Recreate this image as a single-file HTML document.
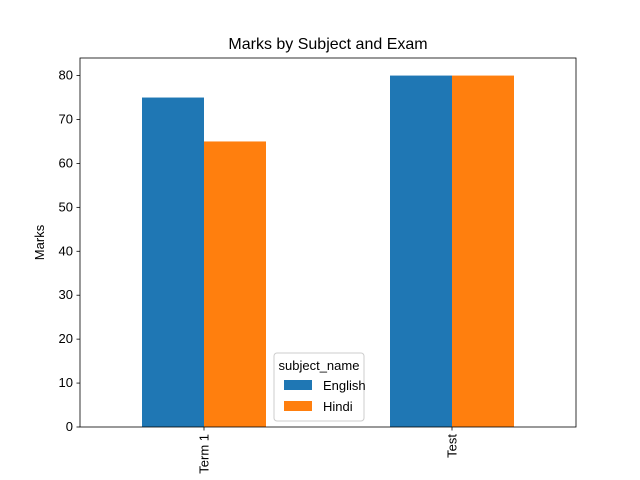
<!DOCTYPE html>
<html><head><meta charset="utf-8"><style>body{margin:0;background:#fff}svg{display:block;font-family:"Liberation Sans","DejaVu Sans",sans-serif}</style></head>
<body>
<svg id="chart" width="640" height="480"></svg>
<script>
const categories = ["Term 1", "Test"];
const seriesNames = ["English", "Hindi"];
const english = [75, 80];
const hindi = [65, 80];
const yTicks = [0, 10, 20, 30, 40, 50, 60, 70, 80];
const colors = ["#1f77b4", "#ff7f0e"];

const NS = "http://www.w3.org/2000/svg";
const svg = document.getElementById("chart");
const L = 80, R = 576, T = 58, B = 427, YMAX = 84;
const y = v => B - v / YMAX * (B - T);
const x = v => L + (v + 0.5) / 2 * (R - L);
function mk(tag, attrs, parent) {
  const e = document.createElementNS(NS, tag);
  for (const k in attrs) e.setAttribute(k, attrs[k]);
  (parent || svg).appendChild(e);
  return e;
}
const title = mk("text", {x: 328, y: 49, "text-anchor": "middle", "font-size": 16, fill: "#000"});
title.textContent = "Marks by Subject and Exam";



const series = [english, hindi];
series.forEach((vals, s) => {
  vals.forEach((v, i) => {
    const x0 = x(i - 0.25 + s * 0.25);
    const r = mk("rect", {x: x0, y: y(v), width: x(0.25) - x(0), height: y(0) - y(v), fill: colors[s]});
    
    
  });
});

const frame = mk("rect", {x: L, y: T, width: R - L, height: B - T, fill: "none", stroke: "#000", "stroke-width": 0.8});



yTicks.forEach(t => {
  mk("line", {x1: L - 3.5, x2: L, y1: y(t), y2: y(t), stroke: "#000", "stroke-width": 0.8});
  const lab = mk("text", {x: L - 7, y: y(t) + 4, "text-anchor": "end", "font-size": 13});
  lab.textContent = t;
  
  
});
categories.forEach((c, i) => {
  const cx = x(i);
  mk("line", {x1: cx, x2: cx, y1: B, y2: B + 3.5, stroke: "#000", "stroke-width": 0.8});
  const lab = mk("text", {x: 0, y: 0, "text-anchor": "end", "font-size": 13, transform: `translate(${cx + 4.5},${B + 7}) rotate(-90)`});
  lab.textContent = c;
  
  
});
const yl = mk("text", {x: 0, y: 0, "text-anchor": "middle", "font-size": 13, transform: `translate(44,${(T + B) / 2}) rotate(-90)`});
yl.textContent = "Marks";



const lg = mk("g", {});


mk("rect", {x: 274, y: 353, width: 90, height: 68, rx: 3, fill: "#fff", "fill-opacity": 0.8, stroke: "#ccc"}, lg);
const lt = mk("text", {x: 319, y: 370, "text-anchor": "middle", "font-size": 13}, lg);
lt.textContent = "subject_name";
seriesNames.forEach((n, s) => {
  const yy = 380 + s * 21;
  mk("rect", {x: 284, y: yy, width: 28, height: 10, fill: colors[s]}, lg);
  const t = mk("text", {x: 323, y: yy + 10, "font-size": 13}, lg);
  t.textContent = n;
  
  
});
</script>
</body></html>
